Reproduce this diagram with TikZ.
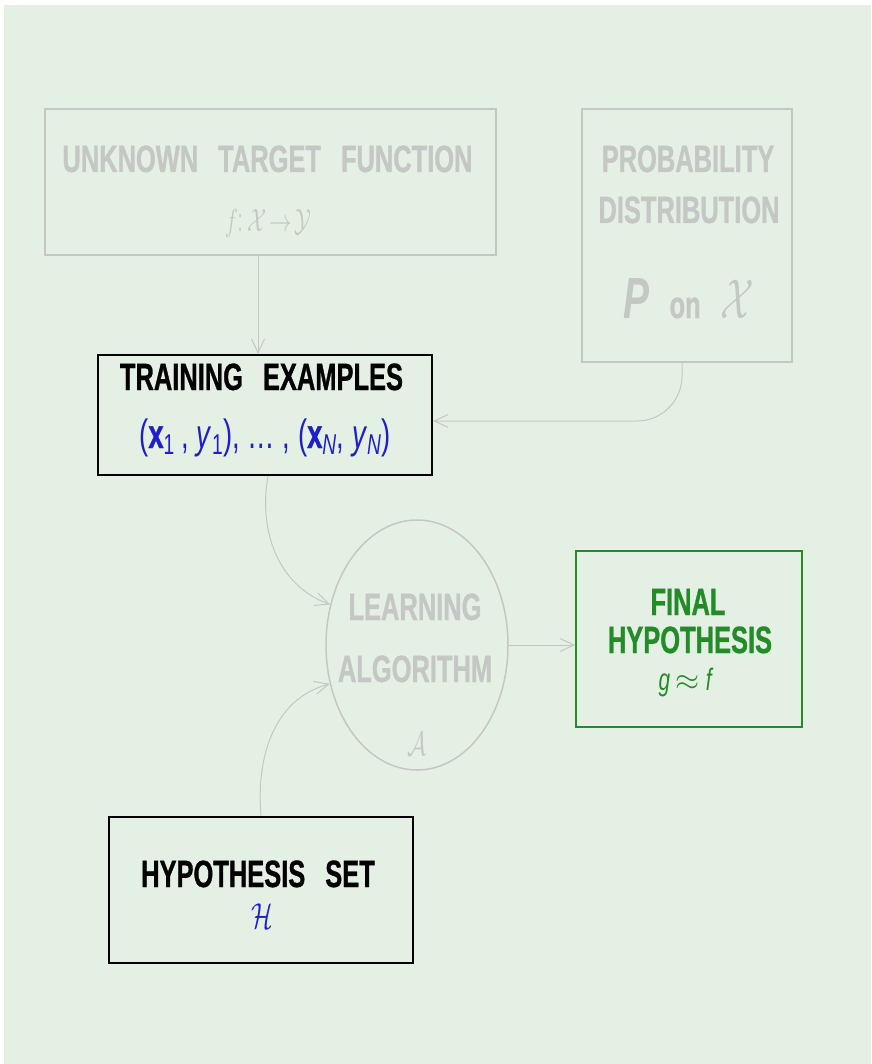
\RequirePackage{fix-cm}
\documentclass[tikz,border=0pt]{standalone}
\usepackage{fontspec}
\usepackage{amssymb}
\usepackage{amsmath}
\usetikzlibrary{shapes.geometric,arrows.meta}

\newfontfamily\slide{Liberation Sans}[FakeStretch=0.67, BoldFeatures={FakeBold=0.8}]
\definecolor{slidebg}{RGB}{229,240,229}
\definecolor{faded}{RGB}{196,199,196}
\definecolor{exblue}{RGB}{30,30,205}
\definecolor{hypgreen}{RGB}{35,140,40}
\newcommand{\gap}{\hspace{20pt}}
\newcommand{\narrow}[1]{\scalebox{0.7}[1]{#1}}

\begin{document}
\begin{tikzpicture}[x=1pt, y=-1pt,
    fadedbox/.style={draw=faded, line width=1.5pt, inner sep=0pt},
    darkbox/.style={draw=black, line width=2pt, inner sep=0pt},
    finalbox/.style={draw=hypgreen, line width=1.6pt, inner sep=0pt},
    title/.style={font=\slide\bfseries\fontsize{38}{44}\selectfont, anchor=base, inner sep=0pt},
    mathline/.style={font=\slide\fontsize{32}{36}\selectfont, anchor=base, inner sep=0pt},
    flow/.style={draw=faded, line width=1pt, -{Straight Barb[length=14pt,width=13pt]}}]
  \useasboundingbox (0,0) rectangle (871,1064);
  \fill[slidebg] (4,5) rectangle (871,1064);

  % boxes
  \node[fadedbox, minimum width=451pt, minimum height=146pt] (target) at (270.5,182) {};
  \node[fadedbox, minimum width=210pt, minimum height=253pt] (prob) at (687,235.5) {};
  \node[darkbox, minimum width=334pt, minimum height=120pt] (train) at (265,415) {};
  \node[draw=faded, line width=1.5pt, ellipse, inner sep=0pt,
        minimum width=182pt, minimum height=250pt] (learn) at (417,645) {};
  \node[finalbox, minimum width=226pt, minimum height=176pt] (final) at (689,639) {};
  \node[darkbox, minimum width=304pt, minimum height=146pt] (hset) at (261,890) {};

  % texts
  \node[title, text=faded] (target-name) at (267.5,172) {UNKNOWN\gap TARGET\gap FUNCTION};
  \node[mathline, text=faded] (target-map) at (268,232) {\narrow{$f$: $\mathcal{X}\!\to\!\mathcal{Y}$}};

  \node[title, text=faded] (prob-l1) at (688,172) {PROBABILITY};
  \node[title, text=faded] (prob-l2) at (689,223) {DISTRIBUTION};
  \node[title, text=faded, font=\slide\bfseries\fontsize{38}{44}\selectfont] (prob-l3) at (689,318)
    {{\fontsize{58}{60}\selectfont\itshape P}\gap on\gap{\fontsize{56}{60}\selectfont\narrow{$\mathcal{X}$}}};

  \node[title] (train-name) at (261.5,390) {TRAINING\gap EXAMPLES};
  \node[title, text=exblue, font=\slide\fontsize{41}{44}\selectfont] (train-data) at (265,448)
    {(\textbf{x}\textsubscript{1}\,, \textit{y}\textsubscript{1}), \dots\ , (\textbf{x}\textsubscript{\textit{N}}, \textit{y}\textsubscript{\textit{N}})};

  \node[title, text=faded] (learn-l1) at (415,620) {LEARNING};
  \node[title, text=faded] (learn-l2) at (415,682) {ALGORITHM};
  \node[mathline, text=faded, font=\fontsize{34}{36}\selectfont] (learn-sym) at (417,755) {\narrow{$\mathcal{A}$}};

  \node[title, text=hypgreen] (final-l1) at (688,615) {FINAL};
  \node[title, text=hypgreen] (final-l2) at (690,653) {HYPOTHESIS};
  \node[mathline, text=hypgreen, font=\slide\fontsize{31}{34}\selectfont] (final-g) at (686,690)
    {\textit{g} $\approx$ \textit{f}};

  \node[title] (hset-name) at (258,887) {HYPOTHESIS\gap SET};
  \node[mathline, text=exblue, font=\fontsize{36}{40}\selectfont] (hset-sym) at (262,928) {\narrow{$\mathcal{H}$}};

  % connectors
  \draw[flow] ([xshift=-12.5pt]target.south) -- ([xshift=-7pt]train.north);
  \draw[flow, rounded corners=45pt] ([xshift=-5pt]prob.south) |- ([yshift=-6pt]train.east);
  \draw[flow] ([xshift=3pt]train.south) to[out=-100, in=160] (learn.155);
  \draw[flow] (hset.north) to[out=95, in=195] (learn.204);
  \draw[flow] (learn.east) -- (learn.east -| final.west);
\end{tikzpicture}
\end{document}
